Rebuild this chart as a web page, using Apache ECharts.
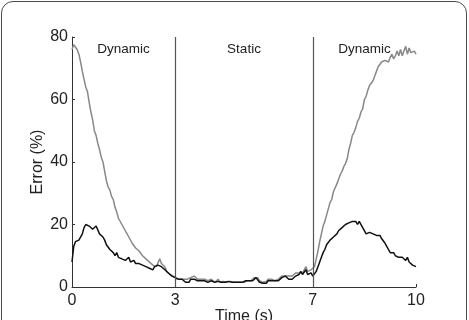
<!DOCTYPE html>
<html>
<head>
<meta charset="utf-8">
<script src="https://cdn.jsdelivr.net/npm/echarts@6/dist/echarts.min.js"></script>
<style>
    html, body { margin: 0; padding: 0; background: #fff; overflow: hidden; }
    #frame {
        position: absolute; left: 1px; top: 1px; width: 464px; height: 340px;
        border: 1.5px solid #4a4a4a; border-radius: 12px;
    }
    #chart { position: absolute; left: 0; top: 0; width: 469px; height: 320px; }
</style>
</head>
<body>
<div id="frame"></div>
<div id="chart"></div>
<script>
'use strict';
// time step of the sampled curves (s)
const dt = 0.05;
const xTicks = [0, 3, 7, 10];
const phaseBounds = [3, 7];
const phases = [
    { name: "Dynamic", from: 0, to: 3 },
    { name: "Static", from: 3, to: 7 },
    { name: "Dynamic", from: 7, to: 10 }
];

// grey curve, error (%), one row per second
const greyErr = [
    76, 77.5, 77, 76, 74.5, 72, 69, 68.5, 64, 62.5, 59, 56, 53.5, 50, 48.5, 46, 44, 41.5, 40, 37,
    34, 32, 31, 29, 28, 25.5, 24, 22, 21.5, 20, 19.5, 18, 17, 16, 15.5, 14, 13.5, 12.5, 12.5, 11.5,
    11, 10, 9.5, 9, 8.5, 8, 7.5, 7, 7.5, 6.5, 7, 9, 7.5, 7, 6.5, 5, 4.5, 4, 3.5, 3.5,
    3, 2.5, 3, 2.5, 2, 2.5, 2, 2.5, 2, 3, 2.5, 3.5, 4, 2.5, 2, 2.5, 2, 2.5, 3, 2,
    2, 2.5, 2, 1.5, 2, 2.5, 1.5, 2, 1.8, 1.5, 1.5, 2, 1.8, 1.5, 1.5, 2, 1.5, 1.8, 1.5, 2,
    1.5, 1.8, 2, 2.5, 2, 2.5, 3, 3.5, 3, 2, 1.5, 1.5, 2, 1.8, 2.5, 2, 2.5, 2.5, 2, 2.5,
    2.5, 3, 3.5, 3, 3.5, 4, 3.5, 3, 3.5, 4, 4.5, 4, 4.5, 5, 4.5, 5.5, 6.5, 5, 4.5, 5.5,
    5.5, 6.5, 9, 11.5, 14.5, 17, 19.5, 21, 23, 25, 27, 28, 30.5, 30, 33, 34.5, 36, 37, 38.5, 39.5,
    41, 44, 46, 48.5, 49.5, 51, 53, 54, 56, 57, 60, 61, 63, 64.5, 65, 66, 67.5, 69, 70.5, 71,
    72, 71.5, 72.5, 73, 72, 73.5, 74.5, 73, 74, 75.5, 74, 76, 74, 75.5, 77, 74.5, 76.5, 75, 74.5, 75.5,
    74.5
];

// black curve, error (%), one row per second
const blackErr = [
    8, 13, 14.5, 14.5, 15, 15.5, 17, 19, 20, 19.5, 19.5, 19, 18.5, 18, 19.5, 19, 17, 17.5, 16, 15,
    13.5, 13, 12, 12.5, 11, 10, 11, 9.5, 10, 9, 9.5, 8.5, 9, 9.5, 8, 8.5, 8.5, 7.5, 8, 7.5,
    7.5, 7, 7.5, 6.5, 6.5, 6, 5.5, 5.5, 6.5, 6, 7, 7.5, 6.5, 6, 5.5, 5, 4.5, 4, 3.5, 3.5,
    3, 2.5, 2.5, 2, 2.5, 2, 1.5, 2, 1.5, 2.5, 2, 2.5, 3, 2, 1.5, 2, 1.5, 2, 2.5, 1.5,
    1.5, 2, 1.5, 1.5, 2, 1.8, 1.5, 1.5, 2, 1.5, 1.2, 1.8, 1.5, 1.5, 2, 1.5, 1.2, 1.5, 1.8, 1.5,
    1.5, 2, 1.5, 2, 2.5, 2, 2.5, 3, 2.5, 1.5, 1, 1.2, 1.5, 1.2, 2, 1.8, 2, 2.5, 2, 2.5,
    2, 2.5, 3, 2.5, 3.5, 3, 2.5, 3, 2.5, 3, 3.5, 3, 4, 5, 4, 3.5, 5.5, 4, 3.5, 4.5,
    3.5, 4, 5, 6.5, 8, 9.5, 11, 12, 13.5, 14, 15, 15.5, 16, 16.5, 17, 18, 18.5, 19, 19.5, 20,
    19.5, 20.5, 20, 21, 20.5, 21, 20, 21, 20.5, 19, 18.5, 17, 16.5, 17.5, 18, 17, 17.5, 16.5, 16, 16.5,
    15.5, 15, 14, 13, 12, 11, 10.5, 11, 10, 9.5, 9.5, 10, 9.5, 9, 8.5, 9.5, 8, 7.5, 7, 6.5,
    6.5
];

const font = "'Liberation Sans', Arial, Helvetica, sans-serif";

function toPairs(arr) {
    return arr.map((v, i) => [+(i * dt).toFixed(2), v]);
}

const chart = echarts.init(document.getElementById('chart'), null, { renderer: 'canvas' });

const option = {
    animation: false,
    backgroundColor: 'transparent',
    grid: { left: 72, right: 53, top: 37, bottom: 33, outerBoundsMode: 'none' },
    xAxis: {
        type: 'value',
        min: 0,
        max: 10,
        name: 'Time (s)',
        nameLocation: 'middle',
        nameGap: 22,
        nameMoveOverlap: false,
        nameTextStyle: { fontFamily: font, fontSize: 16, color: '#222' },
        splitLine: { show: false },
        axisLine: { lineStyle: { color: '#333', width: 1 } },
        axisTick: { inside: true, length: 3, customValues: xTicks, lineStyle: { color: '#333' } },
        axisLabel: { customValues: xTicks, fontFamily: font, fontSize: 16, color: '#222', margin: 6 }
    },
    yAxis: {
        type: 'value',
        min: 0,
        max: 80,
        interval: 20,
        name: 'Error (%)',
        nameLocation: 'middle',
        nameGap: 26,
        nameMoveOverlap: false,
        nameTextStyle: { fontFamily: font, fontSize: 16, color: '#222' },
        splitLine: { show: false },
        axisLine: { show: true, lineStyle: { color: '#333', width: 1 } },
        axisTick: { show: true, inside: true, length: 3, lineStyle: { color: '#333' } },
        axisLabel: { fontFamily: font, fontSize: 16, color: '#222', margin: 4 }
    },
    series: [{
        type: 'line',
        data: toPairs(greyErr),
        showSymbol: false,
        lineStyle: { color: '#888', width: 1.5 },
        z: 3,
        markLine: {
            silent: true,
            symbol: 'none',
            label: { show: false },
            lineStyle: { color: '#555', width: 1.2, type: 'solid' },
            data: phaseBounds.map(x => ({ xAxis: x }))
        },
        markArea: {
            silent: true,
            itemStyle: { color: 'rgba(0,0,0,0)' },
            label: {
                position: 'insideTop',
                distance: 5,
                fontFamily: font,
                fontSize: 13.5,
                color: '#222'
            },
            data: phases.map(p => [{ name: p.name, xAxis: p.from }, { xAxis: p.to }])
        }
    }, {
        type: 'line',
        data: toPairs(blackErr),
        showSymbol: false,
        lineStyle: { color: '#111', width: 1.5 },
        z: 4
    }]
};

chart.setOption(option);
</script>
</body>
</html>
